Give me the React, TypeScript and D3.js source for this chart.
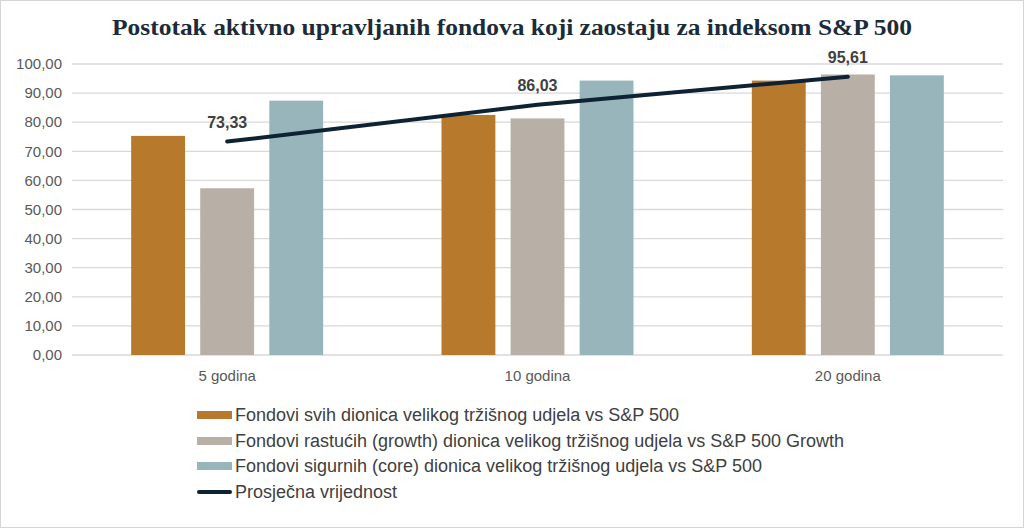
import React, {useEffect} from "react";
import * as d3 from "d3";

const categories = ["5 godina", "10 godina", "20 godina"];
const seriesNames = [
	"Fondovi svih dionica velikog tržišnog udjela vs S&P 500",
	"Fondovi rastućih (growth) dionica velikog tržišnog udjela vs S&P 500 Growth",
	"Fondovi sigurnih (core) dionica velikog tržišnog udjela vs S&P 500",
];
const allFunds = [75.3, 82.5, 94.3];
const growthFunds = [57.3, 81.3, 96.4];
const coreFunds = [87.4, 94.3, 96.1];
const averageName = "Prosječna vrijednost";
const averageValues = [73.33, 86.03, 95.61];
const yTicks = [0, 10, 20, 30, 40, 50, 60, 70, 80, 90, 100];

const seriesColors = ["#b77a2d", "#b8afa6", "#98b5bc"];
const lineColor = "#0e2233";

const W = 1024;
const H = 528;
const fmt = (v: number) => v.toFixed(2).replace(".", ",");
const sans = "'Liberation Sans', Arial, sans-serif";

const App: React.FC = () => {
	useEffect(() => {
		document.body.style.margin = "0";
	}, []);

	const series = [allFunds, growthFunds, coreFunds];

	const x0 = d3.scaleBand<string>().domain(categories).range([72, 1003]);
	const bw = x0.bandwidth();
	const groupW = 192;
	const x1 = d3
		.scaleBand<number>()
		.domain([0, 1, 2])
		.range([(bw - groupW) / 2, (bw + groupW) / 2])
		.paddingInner(0.22);
	const y = d3.scaleLinear().domain([0, 100]).range([355, 64]);

	const line = d3
		.line<number>()
		.x((_, i) => (x0(categories[i]) ?? 0) + bw / 2)
		.y((d) => y(d));

	const legendX = 197;
	const legendY = [415, 441, 466, 492];

	return (
		<svg width={W} height={H} style={{display: "block", background: "#fff"}}>
			<rect x={0.5} y={0.5} width={W - 1} height={H - 1} fill="#fff" stroke="#d4d4d4" />
			<text
				x={112}
				y={35}
				textLength={800}
				lengthAdjust="spacingAndGlyphs"
				style={{fontFamily: "'Liberation Serif', serif", fontWeight: "bold", fontSize: "24px", fill: "#1c2b3a"}}
			>
				Postotak aktivno upravljanih fondova koji zaostaju za indeksom S&amp;P 500
			</text>

			{/* grid + y axis */}
			{yTicks.map((t) => (
				<g key={t}>
					<line x1={72} x2={1003} y1={y(t)} y2={y(t)} stroke="#d9d9d9" strokeWidth={1.3} />
					<text
						x={62}
						y={y(t)}
						dy="0.35em"
						textAnchor="end"
						style={{fontFamily: sans, fontSize: "15px", fill: "#595959"}}
					>
						{fmt(t)}
					</text>
				</g>
			))}

			{/* bars */}
			{categories.map((c, ci) => (
				<g key={c} transform={`translate(${x0(c)},0)`}>
					{series.map((s, si) => (
						<rect
							key={si}
							x={x1(si)}
							y={y(s[ci])}
							width={x1.bandwidth()}
							height={y(0) - y(s[ci])}
							fill={seriesColors[si]}
						/>
					))}
					<text
						x={bw / 2}
						y={381}
						textAnchor="middle"
						style={{fontFamily: sans, fontSize: "15px", fill: "#595959"}}
					>
						{c}
					</text>
				</g>
			))}

			{/* average line */}
			<path d={line(averageValues) ?? ""} fill="none" stroke={lineColor} strokeWidth={4} strokeLinecap="round" />
			{averageValues.map((v, i) => (
				<text
					key={i}
					x={(x0(categories[i]) ?? 0) + bw / 2}
					y={y(v) - 14}
					textAnchor="middle"
					style={{fontFamily: sans, fontSize: "16px", fontWeight: "bold", fill: "#404040"}}
				>
					{fmt(v)}
				</text>
			))}

			{/* legend */}
			{seriesNames.map((n, i) => (
				<g key={n}>
					<rect x={legendX} y={legendY[i] - 4} width={35} height={8} fill={seriesColors[i]} />
					<text
						x={legendX + 38}
						y={legendY[i]}
						dy="0.35em"
						style={{fontFamily: sans, fontSize: "18px", fill: "#404040"}}
					>
						{n}
					</text>
				</g>
			))}
			<line
				x1={legendX + 2}
				x2={legendX + 33}
				y1={legendY[3]}
				y2={legendY[3]}
				stroke={lineColor}
				strokeWidth={4}
				strokeLinecap="round"
			/>
			<text
				x={legendX + 38}
				y={legendY[3]}
				dy="0.35em"
				style={{fontFamily: sans, fontSize: "18px", fill: "#404040"}}
			>
				{averageName}
			</text>
		</svg>
	);
};

export default App;
